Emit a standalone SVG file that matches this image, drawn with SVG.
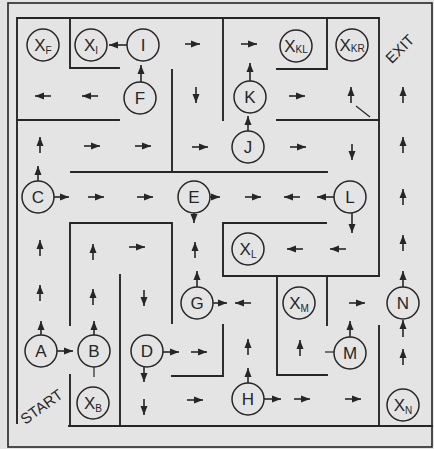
<svg xmlns="http://www.w3.org/2000/svg" width="434" height="449" viewBox="0 0 434 449">
<defs>
<marker id="ah" markerUnits="userSpaceOnUse" markerWidth="10" markerHeight="8" refX="9" refY="4" orient="auto">
<path d="M0,0.5 L9,4 L0,7.5 z" fill="#262626"/>
</marker>
<style>
.w{stroke:#262626;stroke-width:1.9;fill:none;stroke-linecap:square}
.f{stroke:#262626;stroke-width:1.6;fill:none}
.a line{stroke:#262626;stroke-width:1.6;marker-end:url(#ah)}
.s{stroke:#262626;stroke-width:1.2}
.n circle{fill:none;stroke:#262626;stroke-width:1.5}
.n text,.lb{font-family:"Liberation Sans",Arial,sans-serif;font-size:17px;fill:#262626;text-anchor:middle}
.sb{font-size:10px}
.lb{font-size:15px}
</style>
</defs>
<rect x="0" y="0" width="434" height="449" fill="#e4e4e4"/>
<g id="walls">
<rect class="f" x="8" y="3" width="424" height="444"/>
<polyline class="w" points="17,423 17,18 379,18"/>
<line class="w" x1="69" y1="426" x2="432" y2="426"/>
<polyline class="w" points="70,18 70,68 119,68"/>
<line class="w" x1="17" y1="120" x2="119" y2="120"/>
<line class="w" x1="172" y1="70" x2="172" y2="172"/>
<line class="w" x1="71" y1="172" x2="327" y2="172"/>
<line class="w" x1="223" y1="18" x2="223" y2="120"/>
<polyline class="w" points="277,69 327,69 327,18"/>
<line class="w" x1="277" y1="120" x2="379" y2="120"/>
<line class="w" x1="379" y1="18" x2="379" y2="276"/>
<polyline class="w" points="326,223 223,223 223,276 379,276"/>
<polyline class="w" points="70,325 70,223 172,223 172,323"/>
<line class="w" x1="120" y1="275" x2="120" y2="426"/>
<line class="w" x1="70" y1="375" x2="70" y2="426"/>
<polyline class="w" points="172,376 223,376 223,325"/>
<polyline class="w" points="277,276 277,375 327,375"/>
<line class="w" x1="327" y1="276" x2="327" y2="325"/>
<line class="w" x1="379" y1="326" x2="379" y2="426"/>
</g>
<g id="XF" class="n"><circle cx="43" cy="45" r="16"/><text x="43" y="51">X<tspan class="sb" dy="3">F</tspan></text></g>
<g id="XI" class="n"><circle cx="91" cy="45" r="16"/><text x="91" y="51">X<tspan class="sb" dy="3">I</tspan></text></g>
<g id="I" class="n"><circle cx="143" cy="45" r="16"/><text x="143" y="51">I</text></g>
<g id="F" class="n"><circle cx="140" cy="98" r="16"/><text x="140" y="104">F</text></g>
<g id="XKL" class="n"><circle cx="296" cy="46" r="16"/><text x="296" y="52">X<tspan class="sb" dy="1">KL</tspan></text></g>
<g id="XKR" class="n"><circle cx="352" cy="45" r="16"/><text x="352" y="51">X<tspan class="sb" dy="1">KR</tspan></text></g>
<g id="K" class="n"><circle cx="250" cy="97" r="16"/><text x="250" y="103">K</text></g>
<g id="J" class="n"><circle cx="248" cy="147" r="16"/><text x="248" y="153">J</text></g>
<g id="C" class="n"><circle cx="38" cy="197" r="16"/><text x="38" y="203">C</text></g>
<g id="E" class="n"><circle cx="194" cy="197" r="16"/><text x="194" y="203">E</text></g>
<g id="L" class="n"><circle cx="350" cy="197" r="16"/><text x="350" y="203">L</text></g>
<g id="XL" class="n"><circle cx="248" cy="249" r="16"/><text x="248" y="255">X<tspan class="sb" dy="3">L</tspan></text></g>
<g id="G" class="n"><circle cx="197" cy="303" r="16"/><text x="197" y="309">G</text></g>
<g id="XM" class="n"><circle cx="299" cy="303" r="16"/><text x="299" y="309">X<tspan class="sb" dy="3">M</tspan></text></g>
<g id="N" class="n"><circle cx="403" cy="303" r="16"/><text x="403" y="309">N</text></g>
<g id="A" class="n"><circle cx="41" cy="351" r="16"/><text x="41" y="357">A</text></g>
<g id="B" class="n"><circle cx="94" cy="351" r="16"/><text x="94" y="357">B</text></g>
<g id="D" class="n"><circle cx="147" cy="351" r="16"/><text x="147" y="357">D</text></g>
<g id="M" class="n"><circle cx="350" cy="353" r="16"/><text x="350" y="359">M</text></g>
<g id="XB" class="n"><circle cx="93" cy="403" r="16"/><text x="93" y="409">X<tspan class="sb" dy="3">B</tspan></text></g>
<g id="H" class="n"><circle cx="248" cy="399" r="16"/><text x="248" y="405">H</text></g>
<g id="XN" class="n"><circle cx="403" cy="405" r="16"/><text x="403" y="411">X<tspan class="sb" dy="3">N</tspan></text></g>
<g id="connectors" class="a">
<line x1="127" y1="45" x2="109" y2="45"/>
<line x1="141" y1="82" x2="141" y2="65"/>
<line x1="250" y1="81" x2="250" y2="63"/>
<line x1="248" y1="131" x2="248" y2="116"/>
<line x1="38" y1="181" x2="38" y2="166"/>
<line x1="54" y1="197" x2="69" y2="197"/>
<line x1="210" y1="197" x2="220" y2="197"/>
<line x1="194" y1="213" x2="194" y2="223"/>
<line x1="334" y1="197" x2="317" y2="197"/>
<line x1="352" y1="213" x2="352" y2="233"/>
<line x1="197" y1="287" x2="197" y2="271"/>
<line x1="213" y1="303" x2="227" y2="303"/>
<line x1="403" y1="287" x2="403" y2="271"/>
<line x1="403" y1="337" x2="403" y2="320"/>
<line x1="41" y1="335" x2="41" y2="321"/>
<line x1="57" y1="351" x2="73" y2="351"/>
<line x1="94" y1="335" x2="94" y2="321"/>
<line x1="163" y1="352" x2="179" y2="352"/>
<line x1="144" y1="367" x2="144" y2="382"/>
<line x1="350" y1="337" x2="350" y2="321"/>
<line x1="248" y1="383" x2="248" y2="368"/>
<line x1="264" y1="399" x2="281" y2="399"/>
<line x1="185" y1="44" x2="200" y2="44"/>
<line x1="51" y1="96" x2="35" y2="96"/>
<line x1="98" y1="96" x2="82" y2="96"/>
<line x1="196" y1="87" x2="196" y2="103"/>
<line x1="40" y1="153" x2="40" y2="137"/>
<line x1="84" y1="146" x2="100" y2="146"/>
<line x1="135" y1="146" x2="151" y2="146"/>
<line x1="192" y1="147" x2="208" y2="147"/>
<line x1="241" y1="44" x2="257" y2="44"/>
<line x1="289" y1="96" x2="305" y2="96"/>
<line x1="351" y1="103" x2="351" y2="87"/>
<line x1="403" y1="103" x2="403" y2="87"/>
<line x1="290" y1="147" x2="306" y2="147"/>
<line x1="352" y1="144" x2="352" y2="160"/>
<line x1="403" y1="153" x2="403" y2="137"/>
<line x1="88" y1="197" x2="104" y2="197"/>
<line x1="137" y1="197" x2="153" y2="197"/>
<line x1="245" y1="197" x2="261" y2="197"/>
<line x1="300" y1="197" x2="284" y2="197"/>
<line x1="403" y1="205" x2="403" y2="189"/>
<line x1="40" y1="256" x2="40" y2="240"/>
<line x1="93" y1="260" x2="93" y2="244"/>
<line x1="129" y1="247" x2="145" y2="247"/>
<line x1="195" y1="258" x2="195" y2="242"/>
<line x1="303" y1="249" x2="287" y2="249"/>
<line x1="346" y1="249" x2="330" y2="249"/>
<line x1="403" y1="251" x2="403" y2="235"/>
<line x1="40" y1="301" x2="40" y2="285"/>
<line x1="93" y1="305" x2="93" y2="289"/>
<line x1="144" y1="290" x2="144" y2="306"/>
<line x1="251" y1="303" x2="235" y2="303"/>
<line x1="349" y1="303" x2="365" y2="303"/>
<line x1="248" y1="355" x2="248" y2="339"/>
<line x1="300" y1="356" x2="300" y2="340"/>
<line x1="403" y1="365" x2="403" y2="349"/>
<line x1="191" y1="352" x2="207" y2="352"/>
<line x1="144" y1="399" x2="144" y2="415"/>
<line x1="187" y1="400" x2="203" y2="400"/>
<line x1="294" y1="399" x2="310" y2="399"/>
<line x1="345" y1="399" x2="361" y2="399"/>
</g>
<g id="marks">
<line class="s" x1="94" y1="367" x2="94" y2="377"/>
<line class="s" x1="325" y1="352" x2="334" y2="352"/>
<line class="s" x1="356" y1="106" x2="370" y2="117"/>
</g>
<text class="lb" x="41" y="412" transform="rotate(-36 41 406)">START</text>
<text class="lb" x="400" y="54" transform="rotate(-45 400 49)">EXIT</text>
</svg>
